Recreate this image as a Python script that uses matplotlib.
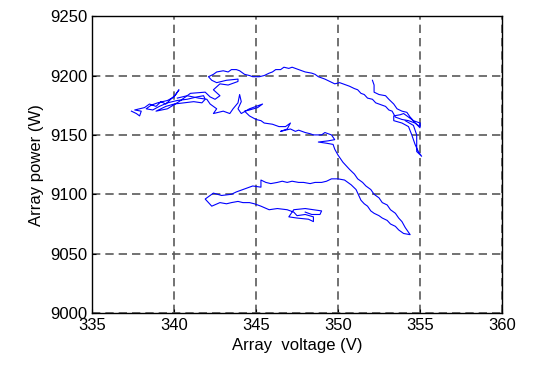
import numpy as np
import matplotlib.pyplot as plt

plt.rcParams['font.family'] = ['Liberation Sans', 'DejaVu Sans']

# upper arc, starting in the left cluster
arc_v = [337.4, 337.7, 337.9, 338.0, 337.6, 338.2, 338.5, 338.9, 339.2, 339.5, 339.8, 340.1,
         340.3, 340.0, 339.6, 339.0, 338.6, 338.3, 338.7, 339.1, 339.6, 340.2, 340.8, 341.4,
         341.8, 341.9, 341.7, 341.2, 340.6, 340.0, 339.5, 339.2, 338.9, 339.6, 340.3, 341.0,
         341.9, 342.2, 342.5, 342.8, 342.4, 342.8, 343.3, 343.9, 343.9, 343.2, 342.6, 342.3,
         342.1, 342.4, 342.6, 343.0, 343.3, 343.5, 343.8, 344.0, 344.3, 344.6, 344.8, 345.2,
         345.5, 345.8, 346.0, 346.2, 346.5, 346.7, 347.0, 347.2, 347.6, 347.8, 348.0, 348.4,
         348.6, 348.8, 349.0, 349.2, 349.5, 349.8, 350.1, 350.3, 350.7, 351.0, 351.2, 351.4,
         351.6, 351.8, 352.1, 352.3, 352.7, 352.9, 353.1, 353.3, 353.5, 353.9, 354.3, 354.7,
         355.0, 355.0]
arc_p = [9170, 9168, 9166, 9170, 9171, 9173, 9176, 9174, 9178, 9176, 9180, 9184,
         9188, 9182, 9179, 9177, 9175, 9172, 9171, 9174, 9177, 9179, 9180, 9182,
         9183, 9180, 9177, 9178, 9177, 9176, 9174, 9172, 9170, 9172, 9178, 9185,
         9186, 9182, 9180, 9183, 9188, 9193, 9192, 9195, 9197, 9196, 9194, 9196,
         9199, 9201, 9203, 9204, 9203, 9205, 9205, 9204, 9201, 9200, 9199, 9199,
         9200, 9202, 9203, 9205, 9205, 9207, 9206, 9207, 9205, 9204, 9203, 9202,
         9201, 9199, 9198, 9197, 9195, 9193, 9194, 9193, 9191, 9189, 9188, 9185,
         9184, 9181, 9180, 9177, 9175, 9174, 9171, 9170, 9165, 9163, 9162, 9160,
         9157, 9160]

# middle line, down the diagonal and round the lower loop
mid_v = [340.2, 340.8, 341.5, 342.0, 342.2, 342.6, 342.4, 343.0, 343.4, 343.6, 343.9, 344.0,
         344.1, 343.9, 344.1, 344.6, 345.0, 345.4, 345.1, 344.6, 344.3, 344.6, 345.0, 345.3,
         345.5, 346.0, 346.4, 346.8, 347.1, 346.9, 346.5, 347.1, 347.4, 347.6, 348.0, 348.3,
         348.5, 349.0, 349.2, 349.6, 349.8, 349.4, 348.8, 349.3, 349.7, 349.8, 350.0, 350.3,
         350.7, 351.0, 351.2, 351.5, 351.7, 352.0, 352.2, 352.5, 352.7, 353.0, 353.2, 353.5,
         353.7, 353.9, 354.1, 354.4, 354.0, 353.7, 353.5, 353.2, 353.0, 352.7, 352.5, 352.2,
         352.0, 351.8, 351.6, 351.4, 351.3, 351.1, 350.8, 350.4, 350.0, 349.6, 349.3, 349.0,
         348.6, 348.3, 347.9, 347.6, 347.2, 346.9, 346.6, 346.3, 345.9, 345.6, 345.3, 345.3,
         344.8, 344.2, 343.8, 343.5, 342.9, 342.4, 342.1, 341.9, 342.1, 342.3, 342.8, 343.2,
         343.5, 343.9, 344.2, 344.6, 344.9, 345.3, 345.8, 346.3, 346.9, 347.3, 347.5, 348.0,
         348.5, 348.5, 348.2, 347.5, 347.0, 347.3, 348.0, 348.5, 349.0, 348.9, 348.4, 348.0]
mid_p = [9181, 9183, 9181, 9180, 9176, 9172, 9168, 9170, 9168, 9172, 9177, 9184,
         9178, 9172, 9168, 9172, 9174, 9176, 9173, 9171, 9170, 9166, 9163, 9162,
         9160, 9159, 9157, 9157, 9160, 9155, 9153, 9155, 9153, 9154, 9152, 9151,
         9150, 9150, 9152, 9150, 9146, 9145, 9144, 9143, 9142, 9138, 9133, 9127,
         9121, 9117, 9113, 9110, 9107, 9104, 9100, 9097, 9093, 9091, 9087, 9084,
         9080, 9077, 9072, 9066, 9067, 9070, 9073, 9075, 9078, 9080, 9082, 9084,
         9086, 9090, 9092, 9095, 9098, 9104, 9108, 9112, 9113, 9113, 9111, 9110,
         9110, 9109, 9110, 9110, 9111, 9110, 9111, 9110, 9109, 9110, 9112, 9106,
         9107, 9104, 9102, 9100, 9099, 9101, 9098, 9096, 9093, 9090, 9093, 9092,
         9093, 9094, 9093, 9093, 9092, 9090, 9087, 9088, 9087, 9085, 9082, 9083,
         9081, 9077, 9079, 9080, 9081, 9087, 9088, 9087, 9086, 9083, 9083, 9085]

# right branch
right_v = [352.1, 352.2, 352.2, 352.5, 352.9, 353.1, 353.4, 353.6, 353.9, 354.2, 354.4, 354.6,
           355.0, 355.0, 354.5, 354.0, 353.8, 353.4, 353.4, 353.9, 354.3, 354.5, 354.7, 354.9,
           355.1, 354.8, 354.8, 354.6, 354.1]
right_p = [9196, 9192, 9186, 9184, 9183, 9180, 9176, 9172, 9170, 9169, 9165, 9162,
           9160, 9156, 9163, 9168, 9167, 9166, 9162, 9160, 9157, 9150, 9142, 9136,
           9132, 9136, 9150, 9158, 9162]

fig = plt.figure(figsize=(5.48, 3.67), dpi=100)
ax = fig.add_axes([0.168, 0.147, 0.748, 0.809])

for v, p in [(arc_v, arc_p), (mid_v, mid_p), (right_v, right_p)]:
    ax.plot(v, p, color='#0000ff', linewidth=0.8)

ax.set_xlim(335, 360)
ax.set_ylim(9000, 9250)
ax.set_xticks(np.arange(335, 361, 5))
ax.set_yticks(np.arange(9000, 9251, 50))
ax.grid(True, color='#5a5a5a', linestyle=(0, (5, 3)), linewidth=1.2)
ax.tick_params(direction='in', labelsize=12, length=3)
for s in ax.spines.values():
    s.set_linewidth(1.0)

ax.set_xlabel('Array  voltage (V)', fontsize=12)
ax.set_ylabel('Array power (W)', fontsize=12)

fig.savefig('out.png', dpi=100)
